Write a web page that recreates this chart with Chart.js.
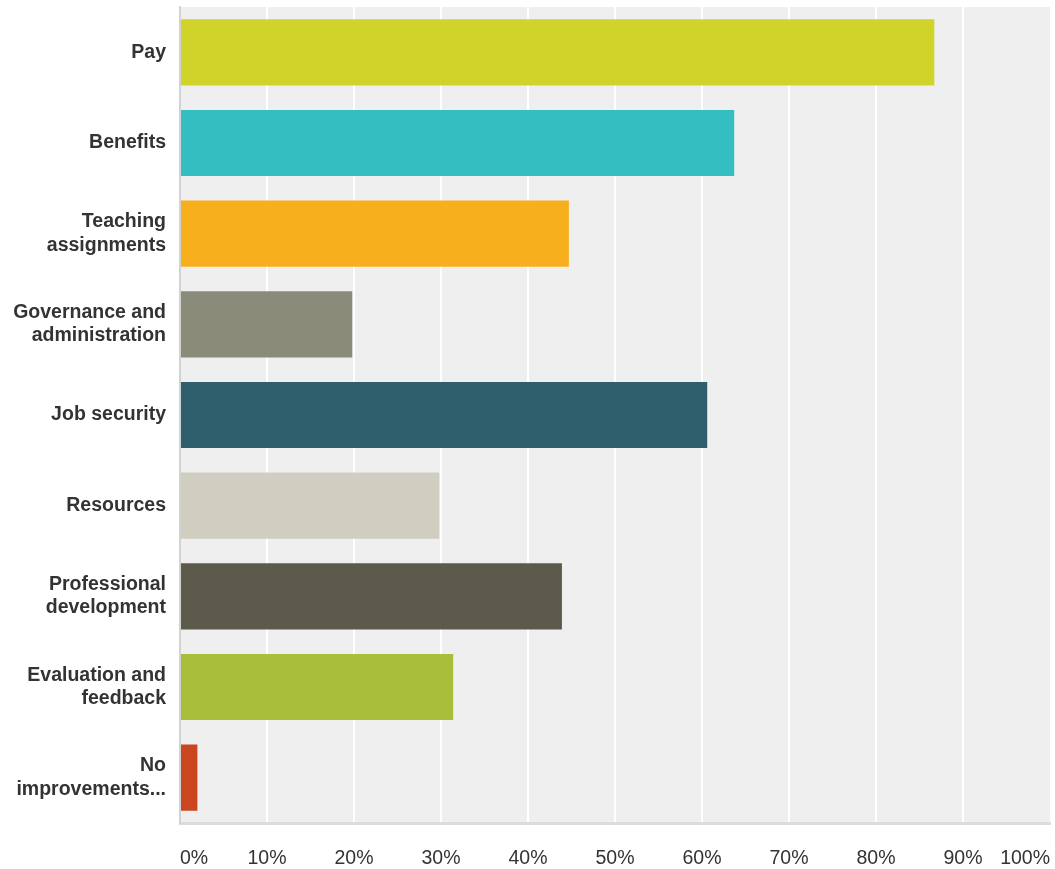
<!DOCTYPE html>
<html>
<head>
<meta charset="utf-8">
<script src="https://cdn.jsdelivr.net/npm/chart.js@4.4.1/dist/chart.umd.min.js"></script>
<style>
  html, body { margin: 0; padding: 0; background: #fff; }
  #wrap { width: 1055px; height: 869px; }
</style>
</head>
<body>
<div id="wrap"><canvas id="chart" width="1055" height="869"></canvas></div>
<script>
// Answer options (multi-line labels are given as arrays)
const categories = [
  'Pay',
  'Benefits',
  ['Teaching', 'assignments'],
  ['Governance and', 'administration'],
  'Job security',
  'Resources',
  ['Professional', 'development'],
  ['Evaluation and', 'feedback'],
  ['No', 'improvements...']
];

// Share of respondents choosing each option (%)
const responses = [86.7, 63.7, 44.7, 19.8, 60.6, 29.8, 43.9, 31.4, 2.0];

// Percent axis ticks
const tickValues = [0, 10, 20, 30, 40, 50, 60, 70, 80, 90, 100];

const barColors = [
  '#d0d32a', '#35bec1', '#f7af1e', '#8b8b7a', '#2f5f6d',
  '#d0cec1', '#5c5a4b', '#a8bd3a', '#c9461e'
];

// Light gray panel behind the bars
const panelBackground = {
  id: 'panelBackground',
  beforeDraw(chart) {
    const { ctx, chartArea } = chart;
    ctx.save();
    ctx.fillStyle = '#efefef';
    ctx.fillRect(chartArea.left, chartArea.top, chartArea.right - chartArea.left, chartArea.bottom - chartArea.top);
    ctx.restore();
  }
};

function noScalePadding(scale) {
  scale.paddingTop = 0;
  scale.paddingBottom = 0;
  scale.paddingLeft = 0;
  scale.paddingRight = 0;
}

new Chart(document.getElementById('chart'), {
  type: 'bar',
  data: {
    labels: categories,
    datasets: [{
      data: responses,
      backgroundColor: barColors,
      borderWidth: 0,
      categoryPercentage: 1.0,
      barPercentage: 0.73
    }]
  },
  plugins: [panelBackground],
  options: {
    indexAxis: 'y',
    responsive: false,
    animation: false,
    layout: { padding: { top: 7, right: 5, left: 0, bottom: 0 } },
    plugins: {
      legend: { display: false },
      tooltip: { enabled: false }
    },
    scales: {
      x: {
        min: 0,
        max: 100,
        afterBuildTicks(scale) {
          scale.ticks = tickValues.map(v => ({ value: v }));
        },
        grid: {
          // no line at the panel's right edge
          color: ctx => (ctx.tick && ctx.tick.value === 100) ? 'rgba(0,0,0,0)' : '#ffffff',
          lineWidth: 2,
          drawTicks: false
        },
        border: { color: '#dcdcdc', width: 3 },
        ticks: {
          align: 'inner',
          padding: 24,
          color: '#333333',
          font: { family: '"Liberation Sans", Arial, sans-serif', size: 19.5 },
          callback: v => v + '%'
        },
        afterFit(scale) {
          scale.height = 46;
          noScalePadding(scale);
        }
      },
      y: {
        grid: { display: false, drawTicks: false },
        border: { color: '#d2d2d2', width: 2 },
        ticks: {
          padding: 14,
          color: '#333333',
          font: { family: '"Liberation Sans", Arial, sans-serif', size: 19.5, weight: 'bold', lineHeight: 1.2 }
        },
        afterFit(scale) {
          scale.width = 180;
          noScalePadding(scale);
        }
      }
    }
  }
});
</script>
</body>
</html>
